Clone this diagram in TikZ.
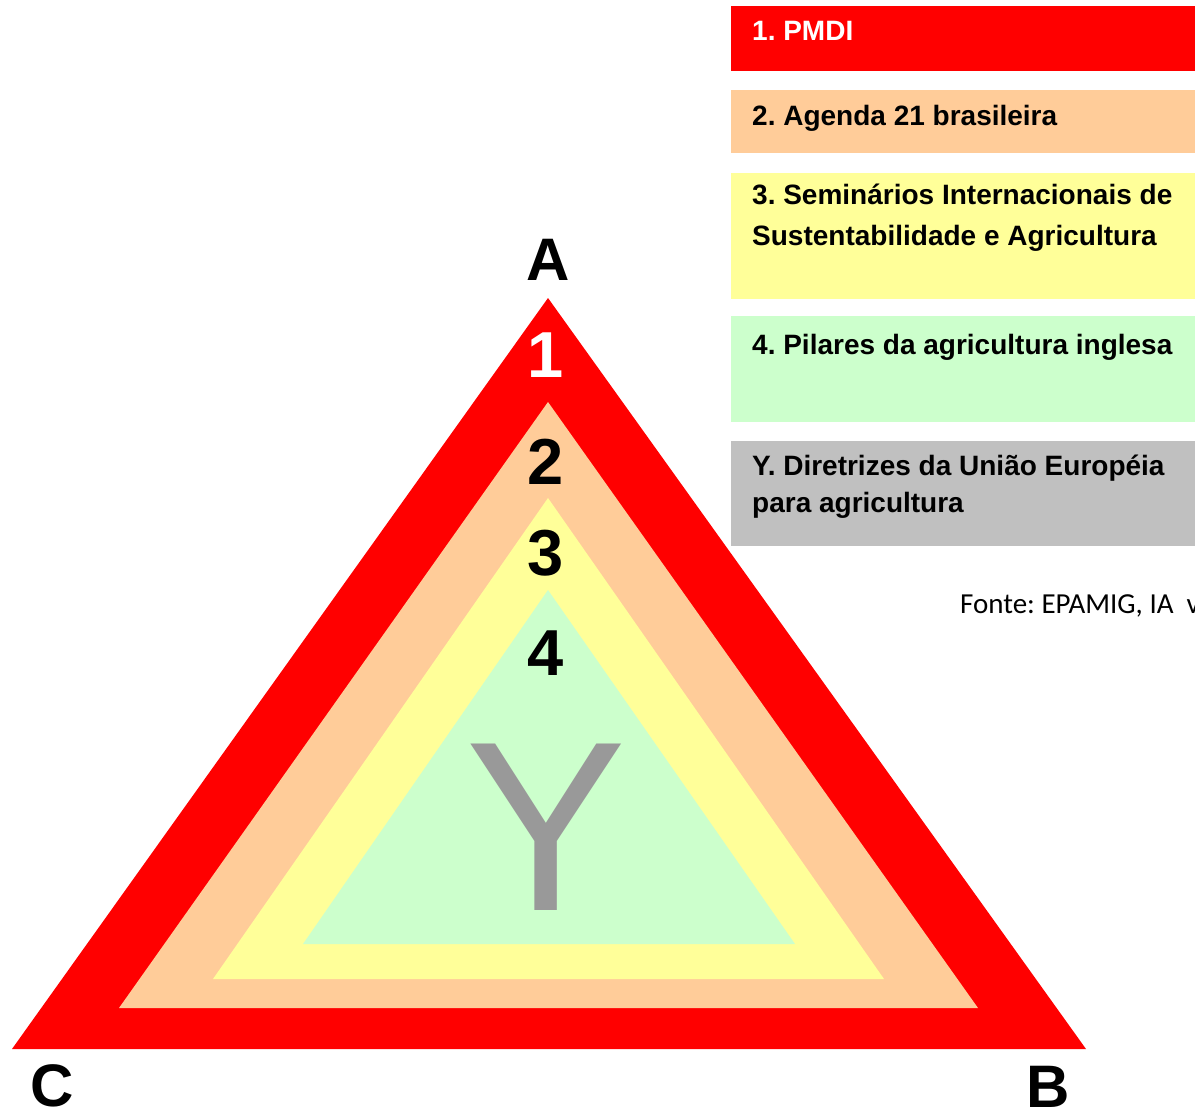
\documentclass[tikz,border=0pt]{standalone}
\usepackage{fontspec}
\setmainfont{Liberation Sans}
\newfontfamily\fontefont{Carlito}
\frenchspacing
\definecolor{tred}{RGB}{255,0,0}
\definecolor{torange}{RGB}{255,204,153}
\definecolor{tyellow}{RGB}{255,255,153}
\definecolor{tgreen}{RGB}{204,255,204}
\definecolor{tgray}{RGB}{192,192,192}
\definecolor{ygray}{RGB}{153,153,153}
\tikzset{
  legbox/.style={rectangle, draw=none, inner sep=0pt, anchor=north west, minimum width=480pt},
  legtext/.style={anchor=base west, inner sep=0pt, font=\fontsize{28}{34}\selectfont\bfseries},
  numtext/.style={anchor=base, inner sep=0pt, font=\fontsize{65}{70}\selectfont\bfseries},
  vertext/.style={anchor=base, inner sep=0pt, font=\fontsize{60}{66}\selectfont\bfseries},
}
\begin{document}
\begin{tikzpicture}[x=1pt,y=-1pt]
\useasboundingbox (0,0) rectangle (1195,1112);
\clip (0,0) rectangle (1195,1112);
\fill[white] (0,0) rectangle (1195,1112);
% triangles
\coordinate (rA) at (548,298);  \coordinate (rB) at (1086,1049); \coordinate (rC) at (12,1049);
\coordinate (oA) at (548,402);  \coordinate (oB) at (978,1008);  \coordinate (oC) at (119,1008);
\coordinate (yA) at (548,498);  \coordinate (yB) at (884,979);   \coordinate (yC) at (213,979);
\coordinate (gA) at (548,590);  \coordinate (gB) at (795,944);   \coordinate (gC) at (303,944);
\fill[tred] (rA) -- (rB) -- (rC) -- cycle;
\fill[torange] (oA) -- (oB) -- (oC) -- cycle;
\fill[tyellow] (yA) -- (yB) -- (yC) -- cycle;
\fill[tgreen] (gA) -- (gB) -- (gC) -- cycle;
% numbers
\node[numtext, text=white] (n1) at (546,377) {1};
\node[numtext] (n2) at (546,484) {2};
\node[numtext] (n3) at (546,575) {3};
\node[numtext] (n4) at (546,675) {4};
\node[anchor=base, inner sep=0pt, text=ygray, font=\fontsize{242}{250}\selectfont] (ny) at (546,910) {Y};
% vertices
\node[vertext] (la) at (548,280) {A};
\node[vertext] (lb) at (1048,1107) {B};
\node[vertext] (lc) at (52,1106) {C};
% legend
\node[legbox, fill=tred, minimum height=65pt] (b1) at (731,6) {};
\node[legbox, fill=torange, minimum height=63pt] (b2) at (731,90) {};
\node[legbox, fill=tyellow, minimum height=126pt] (b3) at (731,173) {};
\node[legbox, fill=tgreen, minimum height=106pt] (b4) at (731,316) {};
\node[legbox, fill=tgray, minimum height=105pt] (b5) at (731,441) {};
\node[legtext, text=white] (t1) at (752,40) {1. PMDI};
\node[legtext] (t2) at (752,125) {2. Agenda 21 brasileira};
\node[legtext] (t3a) at (752,204) {3. Seminários Internacionais de};
\node[legtext] (t3b) at (752,245) {Sustentabilidade e Agricultura};
\node[legtext] (t4) at (752,354) {4. Pilares da agricultura inglesa};
\node[legtext] (t5a) at (752,475) {Y. Diretrizes da União Européia};
\node[legtext] (t5b) at (752,512) {para agricultura};
\node[anchor=base west, inner sep=0pt, font=\fontefont\fontsize{29}{34}\selectfont] (src) at (960,613) {Fonte: EPAMIG, IA\ \ v};
\end{tikzpicture}
\end{document}
